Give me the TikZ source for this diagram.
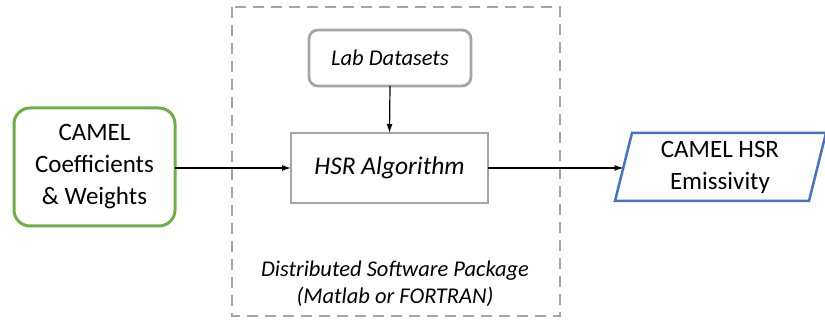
\documentclass[tikz,border=0pt]{standalone}
\usepackage{fontspec}
\setmainfont{Carlito}
\usetikzlibrary{arrows.meta}
\definecolor{cgreen}{HTML}{70AD47}
\definecolor{cblue}{HTML}{4472C4}
\definecolor{cgray}{HTML}{A5A5A5}
\begin{document}
\begin{tikzpicture}[x=1pt,y=-1pt,
  conn/.style={draw=black,line width=1.2pt,-{Latex[length=9pt,width=6pt]}},
  txt/.style={font=\fontsize{25}{32}\selectfont,align=center,inner sep=0pt},
  itxt/.style={font=\fontsize{24}{30}\selectfont\itshape,align=center,inner sep=0pt}]
\useasboundingbox (0,0) rectangle (825,320);
% dashed package boundary
\draw[cgray,line width=2.8pt,dash pattern=on 11pt off 7pt] (232,7) rectangle (560,316);
% input box
\draw[cgreen,line width=3pt,rounded corners=16pt] (14,108) rectangle (175,226);
\node[txt] (in) at (94.5,167) {CAMEL\\Coefficients\\\& Weights};
\coordinate (inE) at (175,168);
% lab datasets
\draw[cgray,line width=2.8pt,rounded corners=9pt] (309,30) rectangle (471,86);
\node[itxt,font=\fontsize{22.5}{28}\selectfont\itshape] (lab) at (390,58) {Lab Datasets};
\coordinate (labS) at (390,86);
% algorithm
\draw[cgray,line width=2.8pt] (291,133) rectangle (488,203);
\node[itxt,font=\fontsize{25.5}{30}\selectfont\itshape] (alg) at (389.5,168) {HSR Algorithm};
\coordinate (algN) at (389.5,133);
\coordinate (algW) at (291,168);
\coordinate (algE) at (488,168);
% output
\draw[cblue,line width=2.5pt,line join=miter] (632,133) -- (826,133) -- (809,201) -- (615,201) -- cycle;
\node[txt] (out) at (720,167) {CAMEL HSR\\Emissivity};
\coordinate (outW) at (623.5,168);
% package label
\node[itxt,font=\fontsize{22.5}{27}\selectfont\itshape] (pkg) at (395,284) {Distributed Software Package\\(Matlab or FORTRAN)};
% connectors
\draw[conn] (inE) -- (algW);
\draw[conn] (labS) -- (algN);
\draw[conn] (algE) -- (outW);
\end{tikzpicture}
\end{document}
